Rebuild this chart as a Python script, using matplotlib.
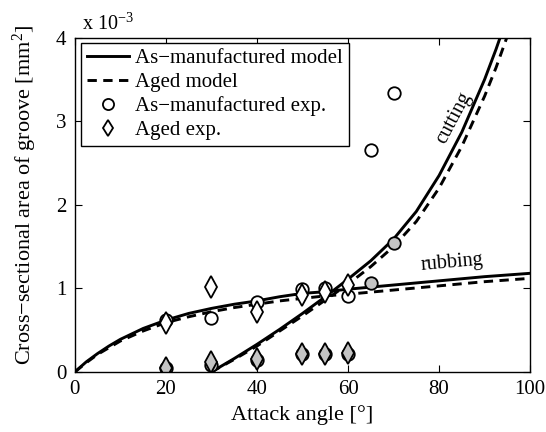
import matplotlib
matplotlib.use("Agg")
import matplotlib.pyplot as plt

plt.rcParams["font.family"] = ["Liberation Serif", "DejaVu Serif"]
plt.rcParams["mathtext.fontset"] = "custom"
plt.rcParams["mathtext.rm"] = "Liberation Serif"
plt.rcParams["mathtext.it"] = "Liberation Serif:italic"

# Model curves (groove area in units of 1e-3 mm^2)
rub_x = [0, 2.5, 5, 7.5, 10, 15, 20, 25, 30, 35, 40, 45, 50, 55, 60, 70, 80, 90, 100]
rub_new = [0, 0.12, 0.22, 0.31, 0.39, 0.52, 0.62, 0.70, 0.76, 0.81, 0.85, 0.90, 0.94,
           0.96, 0.99, 1.04, 1.09, 1.14, 1.18]
rub_aged = [0, 0.11, 0.21, 0.29, 0.37, 0.49, 0.59, 0.66, 0.72, 0.77, 0.81, 0.85, 0.88,
            0.91, 0.93, 0.98, 1.03, 1.08, 1.12]

cut_x = [30, 35, 40, 45, 50, 55, 60, 65, 70, 75, 80, 85, 90, 92.5, 95, 97]
cut_new = [0, 0.16, 0.33, 0.51, 0.70, 0.90, 1.11, 1.33, 1.59, 1.92, 2.35, 2.87, 3.50,
           3.86, 4.25, 4.60]
cut_aged = [0, 0.15, 0.31, 0.49, 0.67, 0.86, 1.05, 1.26, 1.50, 1.80, 2.20, 2.70, 3.30,
            3.64, 4.02, 4.35]

# Experimental data
exp_x = [20, 30, 40, 50, 55, 60, 65, 70]
new_rub = [0.62, 0.64, 0.84, 0.99, 1.00, 0.91, 2.66, 3.34]
new_cut = [0.05, 0.08, 0.14, 0.22, 0.21, 0.22, 1.07, 1.54]
aged_x = [20, 30, 40, 50, 55, 60]
aged_rub = [0.58, 1.02, 0.72, 0.92, 0.96, 1.04]
aged_cut = [0.05, 0.12, 0.15, 0.22, 0.21, 0.23]

x_ticks = [0, 20, 40, 60, 80, 100]
y_ticks = [0, 1, 2, 3, 4]

fig = plt.figure(figsize=(5.46, 4.32), dpi=100)
ax = fig.add_axes([0.137, 0.139, 0.834, 0.774])

lw = 2.1
dash = (0, (3.2, 2.2))
gray = "#c4c4c4"
ms = 9

h1, = ax.plot(rub_x, rub_new, color="black", lw=lw)
h2, = ax.plot(rub_x, rub_aged, color="black", lw=lw, linestyle=dash)
ax.plot(cut_x, cut_new, color="black", lw=lw)
ax.plot(cut_x, cut_aged, color="black", lw=lw, linestyle=dash)

h3, = ax.plot(exp_x, new_rub, "o", ms=ms, mfc="white", mec="black", mew=1.3,
              linestyle="none")
ax.plot(exp_x, new_cut, "o", ms=ms, mfc=gray, mec="black", mew=1.3, linestyle="none")
h4, = ax.plot(aged_x, aged_rub, "d", ms=ms + 2, mfc="white", mec="black", mew=1.3,
              linestyle="none")
ax.plot(aged_x, aged_cut, "d", ms=ms + 2, mfc=gray, mec="black", mew=1.3,
        linestyle="none")

ax.set_xlim(0, 100)
ax.set_ylim(0, 4)
ax.set_xticks(x_ticks)
ax.set_yticks(y_ticks)
ax.tick_params(direction="in", top=True, right=True, labelsize=15, length=5,
               width=0.8, pad=6)
for s in ax.spines.values():
    s.set_linewidth(1.0)

ax.set_xlabel("Attack angle [°]", fontsize=16, labelpad=4)
ax.set_ylabel("Cross−sectional area of groove [mm$^2$]", fontsize=16)
ax.yaxis.set_label_coords(-0.078, 0.53)
ax.text(0.015, 1.008, "x 10$^{-3}$", transform=ax.transAxes, fontsize=14.5,
        ha="left", va="bottom")

ax.text(83.2, 3.04, "cutting", fontsize=14.5, rotation=62, ha="center", va="center")
ax.text(82.9, 1.30, "rubbing", fontsize=14.5, rotation=5, ha="center", va="center")

leg = ax.legend([h1, h2, h3, h4],
                ["As−manufactured model", "Aged model", "As−manufactured exp.",
                 "Aged exp."],
                loc="upper left", bbox_to_anchor=(0.014, 0.985), fontsize=15,
                frameon=True, fancybox=False, edgecolor="black", framealpha=1,
                handlelength=2.0, handletextpad=0.3, borderpad=0.3,
                labelspacing=0.2, borderaxespad=0)
leg.get_frame().set_linewidth(1.0)
for h in leg.legend_handles:
    try:
        h.set_markersize(8)
    except Exception:
        pass

fig.savefig("out.png", dpi=100)
